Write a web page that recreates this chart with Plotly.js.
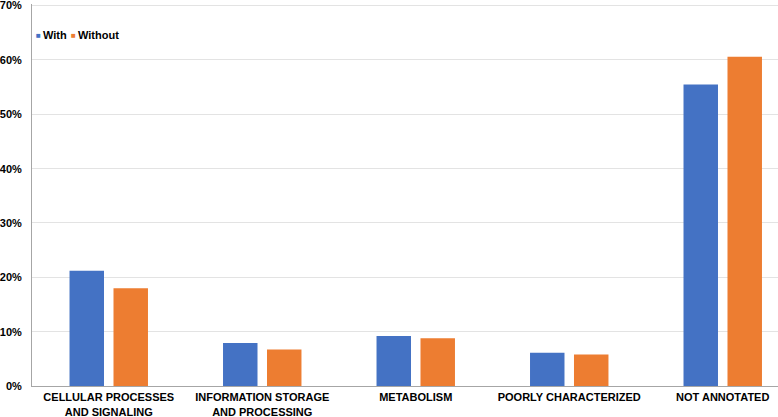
<!DOCTYPE html>
<html>
<head>
<meta charset="utf-8">
<script src="https://cdn.plot.ly/plotly-3.0.1.min.js"></script>
<style>html,body{margin:0;padding:0;background:#fff;}#chart{width:778px;height:417px;}</style>
</head>
<body>
<div id="chart"></div>
<script>
var categories = ["CELLULAR PROCESSES<br>AND SIGNALING", "INFORMATION STORAGE<br>AND PROCESSING", "METABOLISM", "POORLY CHARACTERIZED", "NOT ANNOTATED"];
var seriesNames = ["With", "Without"];
var seriesColors = ["#4472C4", "#ED7D31"];
var withValues = [21.2, 7.9, 9.2, 6.1, 55.5];
var withoutValues = [18.0, 6.7, 8.8, 5.8, 60.6];
var yTickVals = [0, 10, 20, 30, 40, 50, 60, 70];
var yTickText = ["0%", "10%", "20%", "30%", "40%", "50%", "60%", "70%"];

var fam = "Liberation Sans, Arial, sans-serif";
var font = {family: fam, size: 11, color: "#000"};

var traces = [
  {type: "bar", name: seriesNames[0], x: categories, y: withValues, marker: {color: seriesColors[0]}, hoverinfo: "y"},
  {type: "bar", name: seriesNames[1], x: categories, y: withoutValues, marker: {color: seriesColors[1]}, hoverinfo: "y"}
];

var mT = 4, mB = 31, mL = 32;
var plotW = 778 - mL, plotH = 417 - mT - mB;
function px(xPix) { return (xPix - mL) / plotW; }
function py(yPix) { return (417 - mB - yPix) / plotH; }
var legendAnn = [
  {xref: "paper", yref: "paper", x: px(34), y: py(35), xanchor: "left", yanchor: "middle", showarrow: false,
   text: '<span style="color:' + seriesColors[0] + '">■</span>', font: {family: fam, size: 8, color: seriesColors[0]}},
  {xref: "paper", yref: "paper", x: px(41), y: py(35), xanchor: "left", yanchor: "middle", showarrow: false,
   text: "<b>" + seriesNames[0] + "</b>", font: font},
  {xref: "paper", yref: "paper", x: px(69), y: py(35), xanchor: "left", yanchor: "middle", showarrow: false,
   text: '<span style="color:' + seriesColors[1] + '">■</span>', font: {family: fam, size: 8, color: seriesColors[1]}},
  {xref: "paper", yref: "paper", x: px(76), y: py(35), xanchor: "left", yanchor: "middle", showarrow: false,
   text: "<b>" + seriesNames[1] + "</b>", font: font}
];

var layout = {
  width: 778, height: 417,
  margin: {l: mL, r: 0, t: mT, b: mB, pad: 0},
  paper_bgcolor: "#fff", plot_bgcolor: "#fff",
  barmode: "group", bargap: 0.427, bargroupgap: 0.216,
  font: font,
  showlegend: false,
  annotations: legendAnn,
  xaxis: {
    range: [-0.5, 4.36], showgrid: false, showline: true, linecolor: "#a6a6a6", linewidth: 1,
    ticks: "", tickfont: font, fixedrange: true, ticklabelstandoff: 1,
    tickprefix: "<b>", ticksuffix: "</b>"
  },
  yaxis: {
    range: [0, 70.3], tickvals: yTickVals, ticktext: yTickText.map(function(t){return "<b>" + t + "</b>";}),
    showgrid: true, gridcolor: "#e3e3e3", gridwidth: 1, zeroline: false,
    showline: true, linecolor: "#a6a6a6", linewidth: 1, ticks: "", ticklabelstandoff: 7,
    ticklabeloverflow: "allow",
    tickfont: font, fixedrange: true
  }
};

Plotly.newPlot("chart", traces, layout, {displayModeBar: false, staticPlot: true});
</script>
</body>
</html>
